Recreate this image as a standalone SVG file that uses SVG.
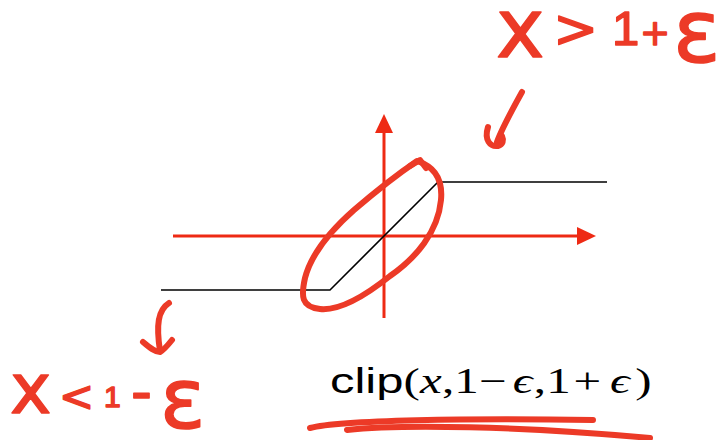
<svg xmlns="http://www.w3.org/2000/svg" width="723" height="440" viewBox="0 0 723 440">
<style>
.axis{stroke:#EE2A14;stroke-width:3;fill:none}
.axhead{fill:#EE2A14}
.curve{stroke:#000;stroke-width:1.6;fill:none;stroke-linejoin:round}
.ink{stroke:#EC3A27;stroke-width:6;fill:none;stroke-linecap:round;stroke-linejoin:round}
.hand{font-family:"DejaVu Sans",sans-serif;fill:#EC3A27;stroke:#EC3A27;stroke-width:1.5;stroke-linejoin:round}
.one{font-family:"Liberation Sans",sans-serif}
.clip{font-family:"Liberation Sans",Arial,sans-serif;font-size:35px;fill:#000}
.math{font-family:"Liberation Serif","Times New Roman",serif;font-size:35px;fill:#000}
</style>
<rect width="723" height="440" fill="#fff"/>
<g id="connectors">
  <line class="axis" x1="173" y1="236" x2="579" y2="236"/>
  <polygon class="axhead" points="577,227 596,236 577,245"/>
  <line class="axis" x1="384" y1="318" x2="384" y2="131"/>
  <polygon class="axhead" points="375,133 384,114 393,133"/>
</g>
<g id="clip-curve">
  <polyline class="curve" points="161,290 330,290 438,182 607,182"/>
</g>
<g id="loop">
  <path class="ink" d="M417,161 C433,166 443,178 441,200 C438,232 416,258 390,276 C365,296 340,311 320,309 C301,307 301,296 305,278 C311,255 329,232 354,210 C375,192 395,176 417,161 Z"/>
  <path class="ink" d="M410,166 L420,160 L426,168" stroke-width="8"/>
</g>
<g id="arrow-top">
  <path class="ink" d="M522,92 C512,110 502,128 497,142"/>
  <path class="ink" d="M488,127 C484,140 490,147 498,146 C503,145 504,140 502,136"/>
</g>
<g id="arrow-bottom">
  <path class="ink" d="M169,303 C158,310 156,325 160,351"/>
  <path class="ink" d="M143,342 C150,348 155,352 160,352 C164,350 168,345 172,340"/>
</g>
<g id="label-top">
  <text class="hand"><tspan x="496" y="57" font-size="82">x</tspan><tspan x="553" y="47" font-size="54">&gt;</tspan><tspan class="one" x="612" y="45" font-size="49">1</tspan><tspan x="640" y="45" font-size="36">+</tspan><tspan x="673" y="62" font-size="88">ε</tspan></text>
</g>
<g id="label-bottom">
  <text class="hand"><tspan x="10" y="413" font-size="70">x</tspan><tspan x="59" y="411" font-size="42">&lt;</tspan><tspan class="one" x="104" y="407" font-size="30">1</tspan><tspan x="131" y="412" font-size="58">-</tspan><tspan x="160" y="428" font-size="84">ε</tspan></text>
</g>
<g id="formula">
  <text transform="translate(330 393) scale(1.4 1)"><tspan class="clip" x="0" y="0">clip</tspan><tspan class="math" x="52.5">(</tspan><tspan class="math" x="64.3" font-style="italic">x</tspan><tspan class="math" x="80">,</tspan><tspan class="math" x="88.8">1</tspan><tspan class="math" x="106.4">−</tspan><tspan class="math" x="130.5" font-style="italic">ϵ</tspan><tspan class="math" x="145.5">,</tspan><tspan class="math" x="154.5">1</tspan><tspan class="math" x="174">+</tspan><tspan class="math" x="200" font-style="italic">ϵ</tspan><tspan class="math" x="218">)</tspan></text>
  <path class="ink" d="M310,428 C340,420 470,418 593,420" stroke-width="5"/>
  <path class="ink" d="M347,430 C400,424 520,426 650,438" stroke-width="5"/>
</g>
</svg>
